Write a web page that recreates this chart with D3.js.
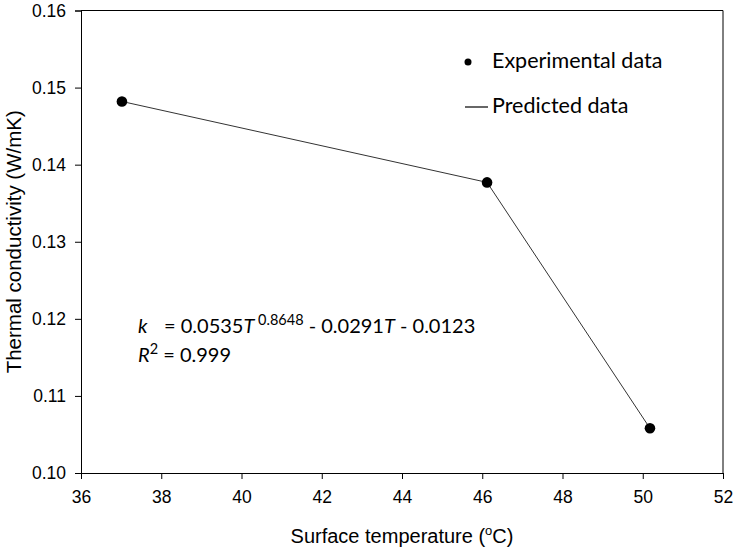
<!DOCTYPE html>
<html><head><meta charset="utf-8">
<script src="https://cdn.jsdelivr.net/npm/d3@7"></script>
<style>body{margin:0;background:#fff}</style>
</head><body>
<svg id="c" width="735" height="552"></svg>
<script>
const temps = [37.02, 46.12, 50.18];
const kExp = [0.1482, 0.1377, 0.1058];
const kPred = [0.1482, 0.1377, 0.1058];
const xTicks = [36, 38, 40, 42, 44, 46, 48, 50, 52];
const yTicks = [0.10, 0.11, 0.12, 0.13, 0.14, 0.15, 0.16];

const svg = d3.select("#c");
const m = {l: 81, r: 723, t: 10.5, b: 473};
const x = d3.scaleLinear().domain([36, 52]).range([m.l, m.r]);
const y = d3.scaleLinear().domain([0.10, 0.16]).range([m.b, m.t]);
const axisFont = "Liberation Sans, Arial, sans-serif";
const calFont = "Lato, 'Open Sans', sans-serif";

// frame
svg.append("line").attr("x1", m.l).attr("x2", m.r).attr("y1", m.t).attr("y2", m.t).attr("stroke", "#000").attr("stroke-width", 1);
svg.append("line").attr("x1", m.r).attr("x2", m.r).attr("y1", m.t).attr("y2", m.b).attr("stroke", "#000").attr("stroke-width", 1);

const gx = svg.append("g").attr("transform", `translate(0,${m.b})`)
  .call(d3.axisBottom(x).tickValues(xTicks).tickSize(6).tickPadding(12).tickFormat(d3.format("d")));
const gy = svg.append("g").attr("transform", `translate(${m.l},0)`)
  .call(d3.axisLeft(y).tickValues(yTicks).tickSize(6).tickPadding(9).tickFormat(d3.format(".2f")));
[gx, gy].forEach(g => {
  g.select(".domain").attr("stroke", "#000");
  g.selectAll(".tick line").attr("stroke", "#000");
  g.selectAll("text").attr("font-family", axisFont).attr("font-size", 17.5).attr("fill", "#000");
});

// predicted line
const pts = temps.map((t, i) => [t, kPred[i]]);
svg.append("path").datum(pts)
  .attr("d", d3.line().x(d => x(d[0])).y(d => y(d[1])))
  .attr("fill", "none").attr("stroke", "#333").attr("stroke-width", 1);

// experimental points
svg.selectAll("circle.pt").data(temps).enter().append("circle")
  .attr("class", "pt").attr("cx", d => x(d)).attr("cy", (d, i) => y(kExp[i]))
  .attr("r", 5.3).attr("fill", "#000");

// axis titles
svg.append("text").attr("x", (m.l + m.r) / 2).attr("y", 543).attr("text-anchor", "middle")
  .attr("font-family", axisFont).attr("font-size", 20)
  .html('Surface temperature (<tspan dy="-8" font-size="13">o</tspan><tspan dy="8">C)</tspan>');
svg.append("text").attr("transform", `translate(21,${(m.t + m.b) / 2}) rotate(-90)`).attr("text-anchor", "middle")
  .attr("font-family", axisFont).attr("font-size", 20.5).text("Thermal conductivity (W/mK)");

// legend
svg.append("circle").attr("cx", 468).attr("cy", 62).attr("r", 3.5).attr("fill", "#000");
svg.append("text").attr("x", 492).attr("y", 68).attr("font-family", calFont).attr("font-size", 21.5).text("Experimental data");
svg.append("line").attr("x1", 465).attr("x2", 488).attr("y1", 107).attr("y2", 107).attr("stroke", "#000").attr("stroke-width", 1.2);
svg.append("text").attr("x", 492).attr("y", 113).attr("font-family", calFont).attr("font-size", 21.5).text("Predicted data");

// equation
svg.append("text").attr("x", 138).attr("y", 333).attr("font-family", calFont).attr("font-size", 20)
  .html('<tspan font-style="italic">k</tspan><tspan x="164">= 0.0535</tspan><tspan font-style="italic">T</tspan><tspan dy="-8" font-size="14.5"> 0.8648</tspan><tspan dy="8"> - 0.0291</tspan><tspan font-style="italic">T</tspan><tspan> - 0.0123</tspan>');
svg.append("text").attr("x", 138).attr("y", 362).attr("font-family", calFont).attr("font-size", 20)
  .html('<tspan font-style="italic">R</tspan><tspan dy="-8" font-size="14.5">2</tspan><tspan dy="8"> = 0.999</tspan>');
</script>
</body></html>
